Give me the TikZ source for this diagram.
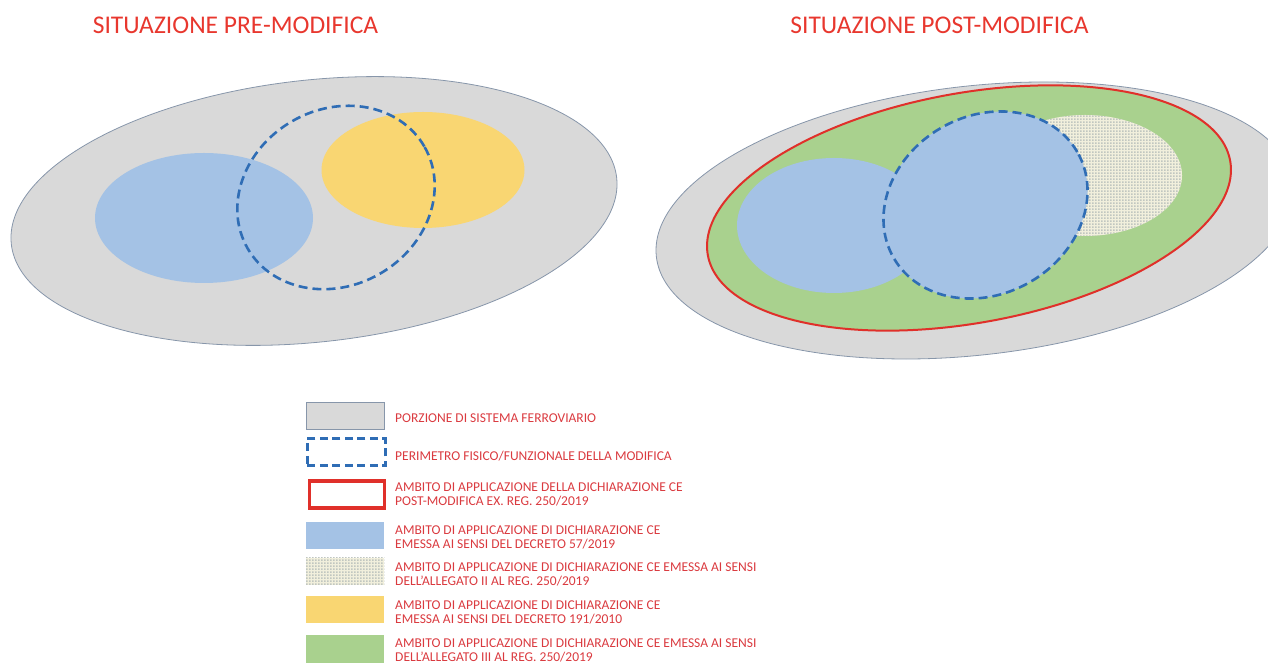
\documentclass[tikz,border=0pt]{standalone}
\usepackage{fontspec}
\setmainfont{Carlito}
\usetikzlibrary{patterns}
\definecolor{grayfill}{HTML}{D9D9D9}
\definecolor{grayline}{HTML}{8796AA}
\definecolor{bluefill}{HTML}{A4C2E5}
\definecolor{yellowfill}{HTML}{F9D672}
\definecolor{greenfill}{HTML}{A9D18E}
\definecolor{dashblue}{HTML}{2F6DB5}
\definecolor{redline}{HTML}{E0302A}
\definecolor{titlered}{HTML}{E8372E}
\definecolor{legred}{HTML}{DA3A3F}
\definecolor{creamfill}{HTML}{F1EFDC}
\definecolor{dotcol}{HTML}{C0C6C0}
\pgfdeclarepatternformonly{cellgrid}{\pgfqpoint{0pt}{0pt}}{\pgfqpoint{3pt}{3pt}}{\pgfqpoint{3pt}{3pt}}{%
  \pgfpathrectangle{\pgfqpoint{0pt}{0pt}}{\pgfqpoint{2pt}{2.1pt}}\pgfusepath{fill}}
\tikzset{
  sysarea/.style={fill=grayfill, draw=grayline, line width=0.8pt},
  perim/.style={draw=dashblue, line width=2.6pt, dash pattern=on 9pt off 5pt},
  redamb/.style={draw=redline, line width=2pt},
  title/.style={text=titlered, font=\fontsize{25.5}{30}\selectfont, inner sep=0pt},
  legtext/.style={text=legred, font=\fontsize{13.5}{14}\selectfont, align=left, anchor=west, inner sep=0pt},
  legbox/.style={minimum width=78pt, minimum height=27pt, inner sep=0pt, anchor=north west},
  dotted area/.style={pattern=cellgrid, pattern color=dotcol}
}
\begin{document}
\begin{tikzpicture}[x=1pt,y=1pt]
\useasboundingbox (0,0) rectangle (1268,663);
\clip (0,0) rectangle (1268,663);
% titles
\node[title] (t1) at (235.5,638) {SITUAZIONE PRE-MODIFICA};
\node[title] (t2) at (939.5,638) {SITUAZIONE POST-MODIFICA};
% ---------- left panel ----------
\draw[sysarea, rotate around={6.25:(314,452)}] (314,452) ellipse [x radius=304.5, y radius=131];
\fill[bluefill] (204,445) ellipse [x radius=109, y radius=65];
\fill[yellowfill] (423,493) ellipse [x radius=101.5, y radius=58];
\draw[perim, rotate around={30:(336,465.5)}] (336,465.5) ellipse [x radius=102, y radius=88];
% ---------- right panel ----------
\draw[sysarea, rotate around={6.5:(975,442.5)}] (975,442.5) ellipse [x radius=320.7, y radius=134.5];
\fill[greenfill, rotate around={10.25:(969,455)}] (969,455) ellipse [x radius=265.4, y radius=115];
\fill[creamfill] (1085,487.5) ellipse [x radius=97, y radius=60.5];
\fill[dotted area] (1085,487.5) ellipse [x radius=97, y radius=60.5];
\fill[bluefill] (834,437.5) ellipse [x radius=97, y radius=67.5];
\fill[bluefill, rotate around={30:(985.5,458)}] (985.5,458) ellipse [x radius=106, y radius=89];
\draw[redamb, rotate around={10.25:(969,455)}] (969,455) ellipse [x radius=265.4, y radius=115];
\draw[perim, rotate around={30:(985.5,458)}] (985.5,458) ellipse [x radius=106, y radius=89];
% ---------- legend ----------
\node[legbox, fill=grayfill, draw=grayline, line width=0.8pt] (b1) at (306,261) {};
\node[legtext] (l1) at (395,245) {PORZIONE DI SISTEMA FERROVIARIO};
\node[legbox, draw=dashblue, line width=2.6pt, dash pattern=on 8pt off 4.5pt, minimum height=27pt] (b2) at (306,225.5) {};
\node[legtext] (l2) at (395,207) {PERIMETRO FISICO/FUNZIONALE DELLA MODIFICA};
\node[legbox, draw=redline, line width=3.6pt, minimum width=75pt, minimum height=27pt] (b3) at (307.5,184) {};
\node[legtext] (l3) at (395,169) {AMBITO DI APPLICAZIONE DELLA DICHIARAZIONE CE\\POST-MODIFICA EX. REG. 250/2019};
\node[legbox, fill=bluefill] (b4) at (306,141) {};
\node[legtext] (l4) at (395,126) {AMBITO DI APPLICAZIONE DI DICHIARAZIONE CE\\EMESSA AI SENSI DEL DECRETO 57/2019};
\node[legbox, fill=creamfill] (b5) at (306,105) {};
\fill[dotted area] (b5.south west) rectangle (b5.north east);
\node[legtext] (l5) at (395,88.5) {AMBITO DI APPLICAZIONE DI DICHIARAZIONE CE EMESSA AI SENSI\\DELL’ALLEGATO II AL REG. 250/2019};
\node[legbox, fill=yellowfill] (b6) at (306,67) {};
\node[legtext] (l6) at (395,51) {AMBITO DI APPLICAZIONE DI DICHIARAZIONE CE\\EMESSA AI SENSI DEL DECRETO 191/2010};
\node[legbox, fill=greenfill, minimum height=29pt] (b7) at (306,28) {};
\node[legtext] (l7) at (395,13) {AMBITO DI APPLICAZIONE DI DICHIARAZIONE CE EMESSA AI SENSI\\DELL’ALLEGATO III AL REG. 250/2019};
\end{tikzpicture}
\end{document}
